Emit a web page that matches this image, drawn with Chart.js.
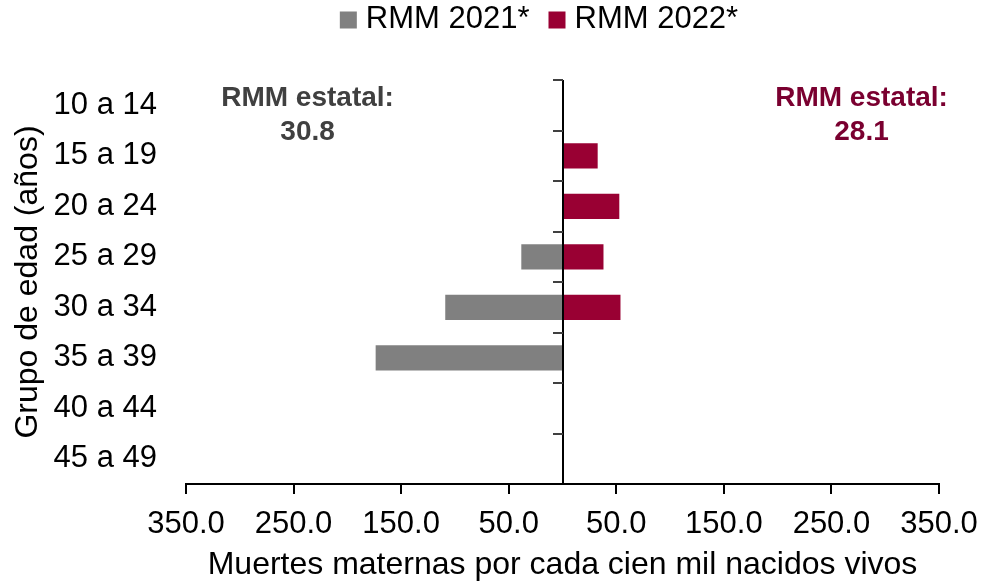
<!DOCTYPE html>
<html><head><meta charset="utf-8">
<script src="https://cdn.jsdelivr.net/npm/chart.js@4.4.0/dist/chart.umd.min.js"></script>
<style>html,body{margin:0;padding:0;background:#fff;overflow:hidden}</style>
</head><body>
<canvas id="c" width="985" height="585" style="width:985px;height:585px;display:block"></canvas>
<script>
const categories = ['10 a 14','15 a 19','20 a 24','25 a 29','30 a 34','35 a 39','40 a 44','45 a 49'];
const rmm2021 = [0, 0, 0, 38.3, 109.0, 173.7, 0, 0];
const rmm2022 = [0, 32.7, 52.8, 38.1, 53.9, 0, 0, 0];
const xTickValues = [-350, -250, -150, -50, 50, 150, 250, 350];
const seriesLabels = ['RMM 2021*', 'RMM 2022*'];
const stateRates = ['30.8', '28.1'];

const FONT = "'Liberation Sans', Arial, sans-serif";
const GRAY = '#808080', RED = '#990033';
const ANNOT_GRAY = '#404040', ANNOT_RED = '#7a0030';

Chart.defaults.font.family = FONT;
Chart.defaults.color = '#000';

const centerAxis = {
  id: 'centerAxis',
  afterDatasetsDraw(chart) {
    const {ctx, chartArea: {top, bottom}, scales: {x}} = chart;
    const x0 = Math.round(x.getPixelForValue(0));
    ctx.save();
    ctx.strokeStyle = '#000'; ctx.lineWidth = 2;
    ctx.beginPath(); ctx.moveTo(x0, top); ctx.lineTo(x0, bottom); ctx.stroke();
    const n = chart.data.labels.length;
    ctx.strokeStyle = '#404040';
    for (let i = 0; i < n; i++) {
      const yy = Math.round(top + (bottom - top) * i / n);
      ctx.beginPath(); ctx.moveTo(x0 - 10, yy); ctx.lineTo(x0, yy); ctx.stroke();
    }
    ctx.restore();
  }
};

const customLegend = {
  id: 'customLegend',
  afterDraw(chart, args, opts) {
    const {ctx} = chart;
    ctx.save();
    ctx.font = '31px ' + FONT;
    const ds = chart.data.datasets;
    const box = 17, gap = 9, itemGap = 19;
    let total = 0;
    ds.forEach((d, i) => { total += box + gap + ctx.measureText(d.label).width + (i < ds.length - 1 ? itemGap : 0); });
    let xx = opts.centerX - total / 2;
    const cy = opts.centerY;
    ds.forEach(d => {
      ctx.fillStyle = d.backgroundColor;
      ctx.fillRect(xx, cy - box / 2, box, box);
      xx += box + gap;
      ctx.fillStyle = '#000';
      ctx.textBaseline = 'middle'; ctx.textAlign = 'left';
      ctx.fillText(d.label, xx, cy - 1);
      xx += ctx.measureText(d.label).width + itemGap;
    });
    ctx.restore();
  }
};

const stateNotes = {
  id: 'stateNotes',
  afterDraw(chart, args, opts) {
    const {ctx, chartArea: {top}, scales: {x}} = chart;
    ctx.save();
    ctx.font = 'bold 28px ' + FONT;
    ctx.textAlign = 'center'; ctx.textBaseline = 'middle';
    opts.items.forEach(it => {
      const px = x.getPixelForValue(it.xValue);
      ctx.fillStyle = it.color;
      ctx.fillText('RMM estatal:', px, top + opts.line1);
      ctx.fillText(it.text, px, top + opts.line2);
    });
    ctx.restore();
  }
};

new Chart(document.getElementById('c'), {
  type: 'bar',
  data: {
    labels: categories,
    datasets: [
      { label: seriesLabels[0], data: rmm2021.map(v => -v), backgroundColor: GRAY, barPercentage: 1, categoryPercentage: 0.5 },
      { label: seriesLabels[1], data: rmm2022, backgroundColor: RED, barPercentage: 1, categoryPercentage: 0.5 }
    ]
  },
  options: {
    indexAxis: 'y',
    responsive: false,
    animation: false,
    devicePixelRatio: 1,
    layout: { padding: { top: 80, right: 46, bottom: 0, left: 0 } },
    plugins: {
      legend: { display: false },
      tooltip: { enabled: false },
      customLegend: { centerX: 539, centerY: 20 },
      stateNotes: {
        line1: 18, line2: 52,
        items: [
          { xValue: -237, text: stateRates[0], color: ANNOT_GRAY },
          { xValue: 278, text: stateRates[1], color: ANNOT_RED }
        ]
      }
    },
    scales: {
      x: {
        type: 'linear', stacked: true, min: -350, max: 350,
        afterBuildTicks: s => { s.ticks = xTickValues.map(v => ({ value: v })); },
        afterFit: s => { s.height = 101; s.paddingLeft = 0; s.paddingRight = 0; },
        ticks: { font: { size: 31 }, color: '#000', padding: 12, maxRotation: 0, autoSkip: false,
                 callback: v => Math.abs(v).toFixed(1) },
        grid: { drawOnChartArea: false, drawTicks: true, tickLength: 10, color: '#000', lineWidth: 2 },
        border: { display: true, color: '#000', width: 2 },
        title: { display: true, text: 'Muertes maternas por cada cien mil nacidos vivos',
                 font: { size: 32 }, color: '#000', padding: { top: 2, bottom: 1 } }
      },
      y: {
        type: 'category', stacked: true, offset: true,
        afterFit: s => { s.width = 186; },
        grid: { display: false, drawTicks: false },
        border: { display: false },
        ticks: { font: { size: 31 }, color: '#000', padding: 29 },
        title: { display: true, text: 'Grupo de edad (años)', font: { size: 32 }, color: '#000',
                 padding: { top: 9, bottom: 6 } }
      }
    }
  },
  plugins: [centerAxis, customLegend, stateNotes]
});
</script>
</body></html>
